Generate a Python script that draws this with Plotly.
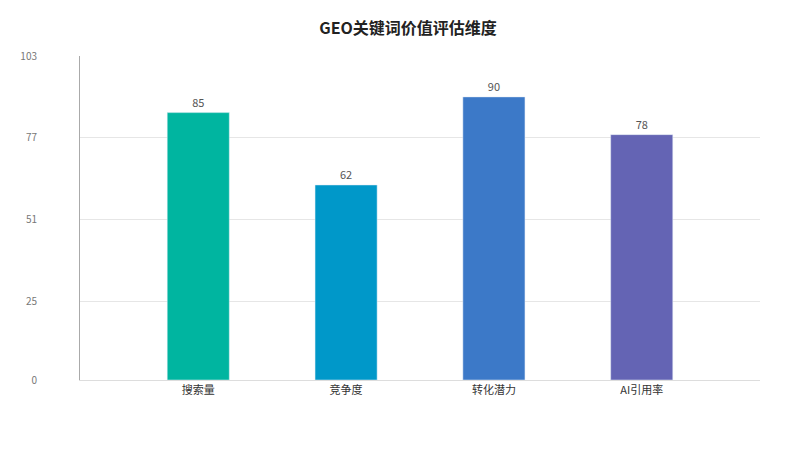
import plotly.graph_objects as go

categories = ["搜索量", "竞争度", "转化潜力", "AI引用率"]
values = [85, 62, 90, 78]
colors = ["#00b5a0", "#0098c9", "#3c79c8", "#6464b4"]
tick_vals = [0, 25, 51, 77, 103]

fig = go.Figure(go.Bar(
    x=list(range(len(categories))), y=values,
    marker_color=colors, width=0.42,
    text=values, textposition="outside", cliponaxis=False,
    textfont=dict(size=11, color="#555"),
))

fig.update_layout(
    width=800, height=450,
    paper_bgcolor="white", plot_bgcolor="white",
    margin=dict(l=72, r=48, t=48, b=78, autoexpand=False),
    font=dict(family="Noto Sans CJK SC, Noto Sans", color="#333"),
    title=dict(text="<b>GEO关键词价值评估维度</b>", x=0.5, y=0.955,
               xanchor="center", yanchor="middle", font=dict(size=16, color="#222")),
    showlegend=False,
    xaxis=dict(tickvals=list(range(len(categories))), ticktext=categories,
               range=[-0.8, 3.8], showgrid=False, showline=True, automargin=False,
               linecolor="#ddd", tickfont=dict(size=11, color="#333"), ticks=""),
    yaxis=dict(range=[0, 103], tickvals=tick_vals, showgrid=True, automargin=False,
               gridcolor="#e6e6e6", zeroline=False, showline=True,
               linecolor="#aaa", ticklabelstandoff=40,
               tickfont=dict(size=10, color="#777")),
)

fig.write_html("out.html")
